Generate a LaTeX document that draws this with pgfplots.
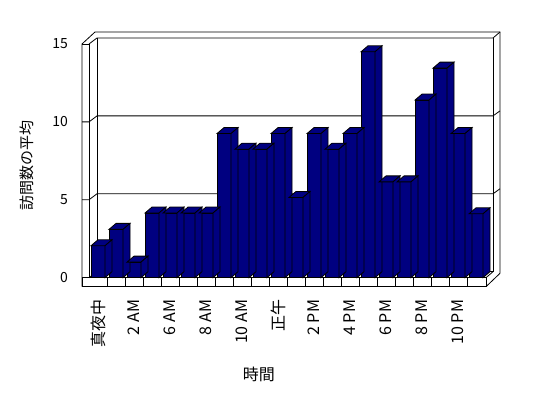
\documentclass[border=0pt]{standalone}
\usepackage{fontspec}
\setmainfont{Noto Sans CJK JP}
\usepackage{pgfplots}
\usepackage{pgfplotstable}
\pgfplotsset{compat=1.18}
\definecolor{navy}{RGB}{0,0,128}
\pgfdeclareplotmark{emptymark}{}
\pgfplotstableread{
x y
0.5 2.05
1.5 3.1
2.5 1.0
3.5 4.15
4.5 4.15
5.5 4.15
6.5 4.15
7.5 9.25
8.5 8.25
9.5 8.25
10.5 9.25
11.5 5.15
12.5 9.25
13.5 8.25
14.5 9.25
15.5 14.5
16.5 6.15
17.5 6.15
18.5 11.4
19.5 13.45
20.5 9.25
21.5 4.1
}\visits
\begin{document}
\begin{tikzpicture}
\useasboundingbox (0pt,0pt) rectangle (548pt,398pt);
% ---- 3D frame (walls and floor) ----
\begin{scope}[x=1pt,y=1pt,line width=0.8pt,black]
% floor front face
\draw (82,111.3) rectangle (486,120.3);
\foreach \k in {1,...,21} \draw ({89+18*\k},111.3) -- ({89+18*\k},120.3);
% floor right end
\draw (486,111.3) -- (500,124.7);
\draw (486,120.3) -- (493,126.3);
% outer outline
\draw (82,111.3) -- (82,354) -- (95,366) -- (500,366) -- (500,124.7);
% left wall front edge and top
\draw (89,120.3) -- (89,354) -- (82,354);
\draw (89,354) -- (97,360) -- (493,360) -- (500,366);
% back wall inner
\draw (97,360) -- (97,126.3) -- (493,126.3) -- (493,360);
\draw (89,120.3) -- (97,126.3);
% gridlines 5 and 10
\foreach \v in {198.2,276.1} \draw (82,\v) -- (89,\v) -- (97,\v+6) -- (493,\v+6) -- (500,\v+11);
\end{scope}
\begin{axis}[
  at={(89pt,120.3pt)}, anchor=south west,
  x=18pt, y=15.58pt,
  xmin=0, xmax=22, ymin=0, ymax=15,
  clip=false,
  axis line style={draw=none},
  major tick length=0pt,
  xtick={0.5,2.5,4.5,6.5,8.5,10.5,12.5,14.5,16.5,18.5,20.5},
  xticklabels={真夜中,2 AM,6 AM,8 AM,10 AM,正午,2 PM,4 PM,6 PM,8 PM,10 PM},
  xticklabel style={font=\fontsize{16}{16}\selectfont, inner sep=0pt, yshift=-22pt, rotate=90, anchor=east},
  ytick={0,5,10,15},
  /pgf/number format/assume math mode=true,
  yticklabel style={font=\fontsize{14}{14}\selectfont, inner sep=0pt, anchor=east, xshift=-21pt},
  xlabel={時間},
  xlabel style={font=\fontsize{16}{16}\selectfont, at={(axis description cs:0.429,-0.416)}, anchor=center},
  ylabel={訪問数の平均},
  ylabel style={font=\fontsize{15}{15}\selectfont, at={(axis description cs:-0.157,0.482)}, anchor=center},
]
% depth faces (top and side) of every bar
\addplot[scatter, only marks, mark=emptymark,
  visualization depends on={rawy \as \rawy},
  scatter/@pre marker code/.code={%
    \pgfmathsetlengthmacro{\barh}{\rawy*15.58pt}%
    \filldraw[fill=navy, draw=black, line width=0.8pt] (-7pt,0pt) -- (0pt,6pt) -- (14pt,6pt) -- (7pt,0pt) -- cycle;
    \filldraw[fill=navy, draw=black, line width=0.8pt] (7pt,0pt) -- (14pt,6pt) -- (14pt,{6pt-\barh}) -- (7pt,{-\barh}) -- cycle;
  },
  scatter/@post marker code/.code={}
] table[x=x,y=y] {\visits};
% front faces
\addplot[ybar, bar width=14pt, fill=navy, draw=black, line width=0.8pt] table[x=x,y=y] {\visits};
\end{axis}
\end{tikzpicture}
\end{document}
